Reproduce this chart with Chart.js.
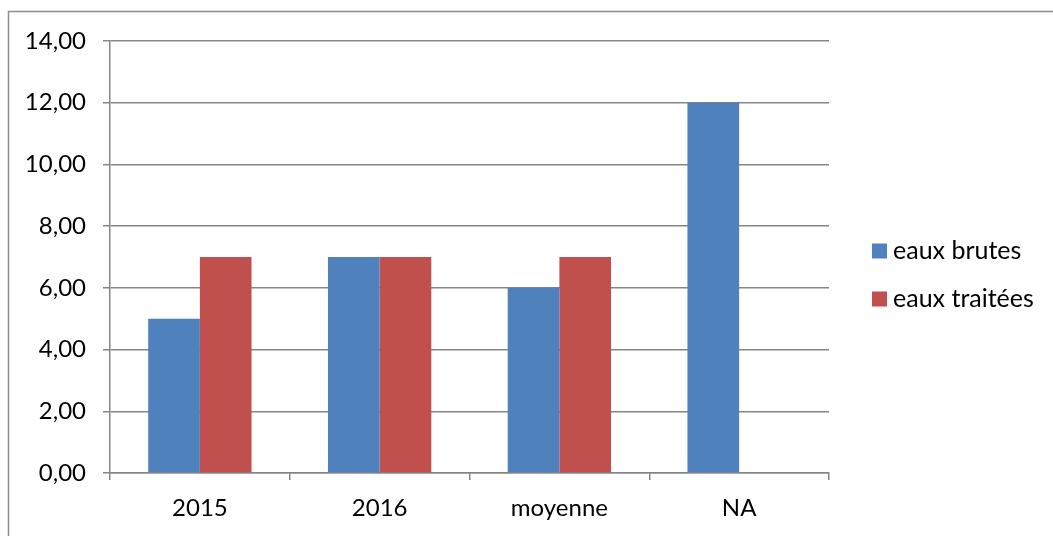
<!DOCTYPE html>
<html>
<head>
<meta charset="utf-8">
<script src="https://cdn.jsdelivr.net/npm/chart.js@4.4.1/dist/chart.umd.min.js"></script>
<style>
  html, body { margin: 0; padding: 0; background: #ffffff; }
  #wrap { width: 1053px; height: 536px; position: relative; }
</style>
</head>
<body>
<div id="wrap"><canvas id="c" width="1053" height="536"></canvas></div>
<script>
const categories = ['2015', '2016', 'moyenne', 'NA'];
const eauxBrutes = [5, 7, 6, 12];
const eauxTraitees = [7, 7, 7, null];
const seriesNames = ['eaux brutes', 'eaux traitées'];
const seriesColors = ['#4F81BD', '#C0504D'];

const FONT = 'Lato, "Open Sans", sans-serif';
const GRID = '#868686';

// Outer frame of the chart object plus a legend drawn at the right
const framePlugin = {
  id: 'frameAndLegend',
  afterDraw(chart) {
    const ctx = chart.ctx;
    ctx.save();
    ctx.strokeStyle = '#8c8c8c';
    ctx.lineWidth = 1.5;
    ctx.strokeRect(8.5, 11.5, 1060, 540);

    ctx.font = '25px ' + FONT;
    ctx.textBaseline = 'middle';
    ctx.textAlign = 'left';
    chart.data.datasets.forEach((ds, i) => {
      const y = 251 + i * 48;
      ctx.fillStyle = ds.backgroundColor;
      ctx.fillRect(872, y - 7.5, 15, 15);
      ctx.fillStyle = '#000000';
      ctx.fillText(ds.label, 893, y);
    });
    ctx.restore();
  }
};

new Chart(document.getElementById('c'), {
  type: 'bar',
  data: {
    labels: categories,
    datasets: [
      { label: seriesNames[0], data: eauxBrutes, backgroundColor: seriesColors[0] },
      { label: seriesNames[1], data: eauxTraitees, backgroundColor: seriesColors[1] }
    ]
  },
  options: {
    responsive: false,
    animation: false,
    layout: { padding: { left: 0, top: 41, right: 224, bottom: 0 } },
    plugins: { legend: { display: false }, tooltip: { enabled: false } },
    datasets: { bar: { categoryPercentage: 0.575, barPercentage: 1.0 } },
    scales: {
      x: {
        offset: true,
        grid: {
          offset: true, drawOnChartArea: false, drawTicks: true,
          tickLength: 7, color: GRID, lineWidth: 1.5
        },
        border: { display: true, color: GRID, width: 1.5 },
        ticks: { color: '#000000', font: { family: FONT, size: 24 }, padding: 14 },
        afterFit(scale) { scale.height = 536 - 473; }
      },
      y: {
        min: 0, max: 14,
        grid: { color: GRID, lineWidth: 1.5, tickLength: 7, drawTicks: true },
        border: { display: true, color: GRID, width: 1.5 },
        ticks: {
          stepSize: 2,
          color: '#000000',
          font: { family: FONT, size: 24 },
          padding: 17,
          callback: v => v.toFixed(2).replace('.', ',')
        },
        afterFit(scale) { scale.width = 110; }
      }
    }
  },
  plugins: [framePlugin]
});
</script>
</body>
</html>
